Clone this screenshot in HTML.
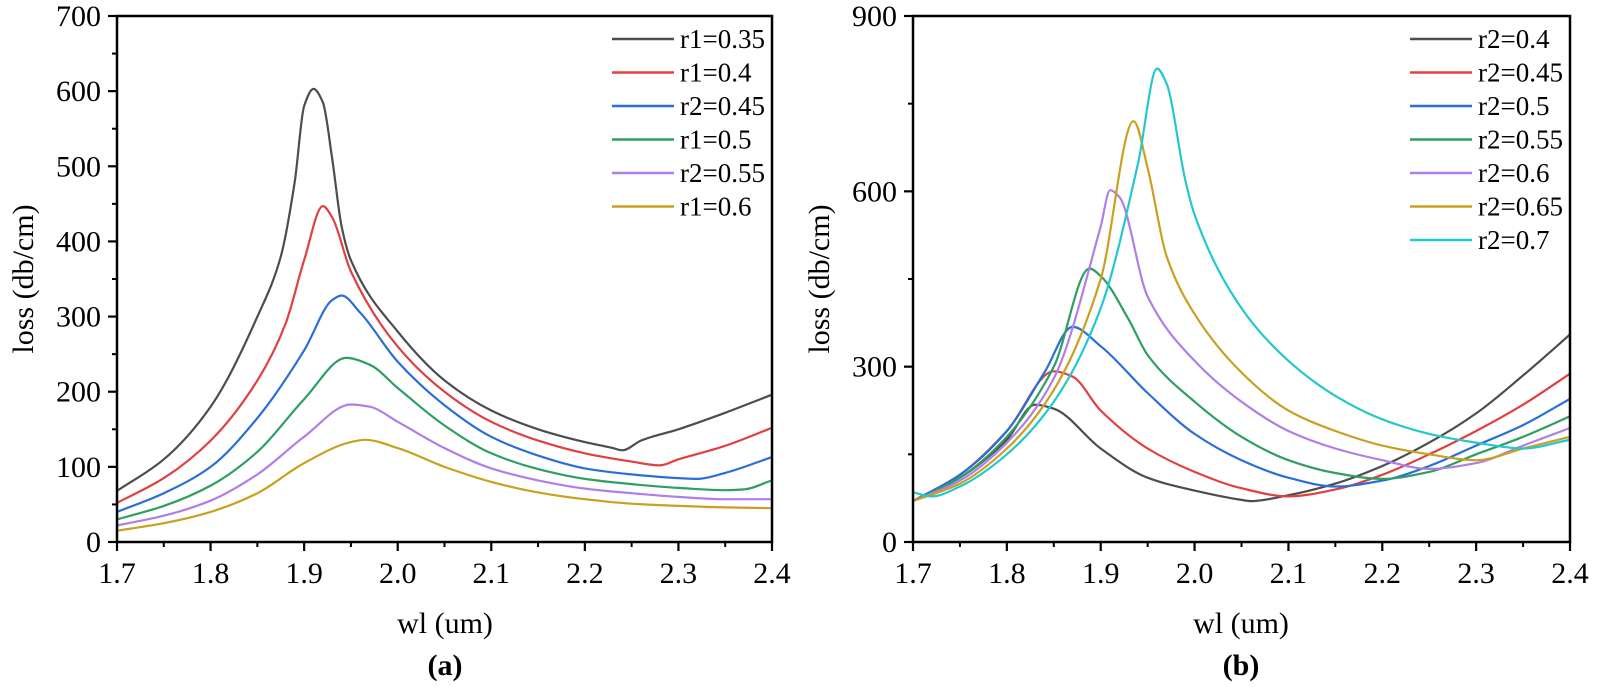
<!DOCTYPE html>
<html><head><meta charset="utf-8">
<style>
html,body{margin:0;padding:0;background:#fff;}
svg{display:block;font-family:"Liberation Serif","Times New Roman",serif;}
</style></head>
<body>
<svg id="chart" width="1597" height="687" viewBox="0 0 1597 687" xmlns="http://www.w3.org/2000/svg"></svg>
<script>
// ---- Panel (a) data ----
const aLabels = ["r1=0.35","r1=0.4","r2=0.45","r1=0.5","r2=0.55","r1=0.6"];
const aColors = ["#4d4d4d","#e0403f","#2a6fd6","#2e9e63","#b07ee8","#c9a020"];
const aX0 = [1.70,1.75,1.80,1.85,1.875,1.89,1.90,1.91,1.92,1.93,1.94,1.95,2.00,2.05,2.10,2.15,2.20,2.23,2.24,2.26,2.30,2.35,2.40];
const aY0 = [68,110,180,300,380,480,580,603,585,510,420,375,280,215,175,150,133,125,122,135,150,172,196];
const aX1 = [1.70,1.75,1.80,1.85,1.88,1.90,1.92,1.93,1.95,2.00,2.05,2.10,2.15,2.20,2.25,2.28,2.30,2.35,2.40];
const aY1 = [52,85,135,215,290,375,447,432,360,260,200,160,135,118,107,102,110,128,152];
const aX2 = [1.70,1.75,1.80,1.85,1.90,1.93,1.94,1.96,2.00,2.05,2.10,2.15,2.20,2.25,2.30,2.32,2.35,2.40];
const aY2 = [40,65,100,165,255,322,328,305,240,182,140,115,98,90,85,84,92,113];
const aX3 = [1.70,1.75,1.80,1.85,1.90,1.945,1.97,2.00,2.05,2.10,2.15,2.20,2.25,2.30,2.35,2.37,2.40];
const aY3 = [30,48,75,120,190,245,236,205,155,118,97,84,77,72,69,70,82];
const aX4 = [1.70,1.75,1.80,1.85,1.90,1.95,1.97,2.00,2.05,2.10,2.15,2.20,2.25,2.30,2.35,2.40];
const aY4 = [22,35,55,90,140,183,180,160,125,98,82,71,65,60,57,57];
const aX5 = [1.70,1.75,1.80,1.85,1.90,1.95,1.965,2.00,2.05,2.10,2.15,2.20,2.25,2.30,2.35,2.40];
const aY5 = [15,25,40,65,105,133,136,125,100,80,66,57,51,48,46,45];
// ---- Panel (b) data ----
const bLabels = ["r2=0.4","r2=0.45","r2=0.5","r2=0.55","r2=0.6","r2=0.65","r2=0.7"];
const bColors = ["#4d4d4d","#e0403f","#2a6fd6","#2e9e63","#b07ee8","#c9a020","#22c8cc"];
const bX0 = [1.70,1.75,1.80,1.83,1.85,1.90,1.95,2.00,2.05,2.06,2.10,2.15,2.20,2.25,2.30,2.35,2.40];
const bY0 = [70,110,175,235,228,160,110,88,72,70,80,100,130,170,220,285,355];
const bX1 = [1.70,1.75,1.80,1.85,1.87,1.90,1.95,2.00,2.05,2.10,2.15,2.20,2.25,2.30,2.35,2.40];
const bY1 = [70,115,190,292,283,225,160,120,92,78,90,115,150,190,235,288];
const bX2 = [1.70,1.75,1.80,1.84,1.87,1.90,1.95,2.00,2.05,2.10,2.15,2.20,2.25,2.30,2.35,2.40];
const bY2 = [70,115,190,290,368,335,255,185,140,110,95,105,130,165,200,245];
const bX3 = [1.70,1.75,1.80,1.85,1.888,1.90,1.93,1.95,2.00,2.05,2.10,2.15,2.20,2.25,2.30,2.35,2.40];
const bY3 = [70,110,180,300,468,455,380,320,240,180,140,118,108,120,150,180,215];
const bX4 = [1.70,1.75,1.80,1.85,1.90,1.91,1.92,1.95,2.00,2.05,2.10,2.15,2.20,2.25,2.30,2.35,2.40];
const bY4 = [70,105,170,280,540,602,590,420,310,240,190,160,140,125,135,165,195];
const bX5 = [1.70,1.75,1.80,1.85,1.90,1.935,1.95,1.97,2.00,2.05,2.10,2.15,2.20,2.25,2.30,2.35,2.40];
const bY5 = [70,100,160,260,450,720,640,490,390,290,225,190,165,150,140,160,180];
const bX6 = [1.70,1.72,1.75,1.80,1.85,1.90,1.94,1.96,1.97,1.99,2.00,2.05,2.10,2.15,2.20,2.25,2.30,2.35,2.40];
const bY6 = [85,78,95,150,240,400,650,810,785,620,560,400,310,250,210,185,170,160,175];
const xTicks = ["1.7","1.8","1.9","2.0","2.1","2.2","2.3","2.4"];
const aYTicks = ["0","100","200","300","400","500","600","700"];
const bYTicks = ["0","300","600","900"];

const NS = "http://www.w3.org/2000/svg";
const svg = document.getElementById("chart");
function mk(tag, attrs, parent){
  const e = document.createElementNS(NS, tag);
  for (const k in attrs) e.setAttribute(k, attrs[k]);
  (parent||svg).appendChild(e);
  return e;
}
function smooth(pts){
  const n = pts.length;
  const dx=[], dy=[], m=[];
  for (let i=0;i<n-1;i++){ dx.push(pts[i+1][0]-pts[i][0]); dy.push(pts[i+1][1]-pts[i][1]); m.push(dy[i]/dx[i]); }
  const t = new Array(n);
  t[0]=m[0]; t[n-1]=m[n-2];
  for (let i=1;i<n-1;i++){
    if (m[i-1]*m[i] <= 0) t[i]=0;
    else { const w1=2*dx[i]+dx[i-1], w2=dx[i]+2*dx[i-1]; t[i]=(w1+w2)/(w1/m[i-1]+w2/m[i]); }
  }
  let d = "M" + pts[0][0].toFixed(1) + "," + pts[0][1].toFixed(1);
  for (let i=0;i<n-1;i++){
    const h = dx[i]/3;
    d += " C"+(pts[i][0]+h).toFixed(1)+","+(pts[i][1]+t[i]*h).toFixed(1)+" "+(pts[i+1][0]-h).toFixed(1)+","+(pts[i+1][1]-t[i+1]*h).toFixed(1)+" "+pts[i+1][0].toFixed(1)+","+pts[i+1][1].toFixed(1);
  }
  return d;
}

function panel(cfg){
  const {L,R,T,B,ymax,yTicks,yMinorStep,xs,ys,labels,colors,legX,tag,titleX,ytitleX} = cfg;
  const sx = v => L + (v-1.7)/0.7*(R-L);
  const sy = v => B - v/ymax*(B-T);
  const g = mk("g", {});
  
  
  const cp = mk("clipPath", {id:"clip-"+tag}, g);
  mk("rect", {x:L, y:T, width:R-L, height:B-T}, cp);
  for (let s=0;s<xs.length;s++){
    const pts = xs[s].map((x,i)=>[sx(x), sy(ys[s][i])]);
    const p = mk("path", {d:smooth(pts), fill:"none", stroke:colors[s], "stroke-width":2.2, "stroke-linejoin":"round", "clip-path":"url(#clip-"+tag+")"}, g);
    
    
  }
  const fr = mk("rect", {x:L, y:T, width:R-L, height:B-T, fill:"none", stroke:"#000", "stroke-width":2.5}, g);
  
  
  for (let i=0;i<xTicks.length;i++){
    const v = parseFloat(xTicks[i]);
    mk("line", {x1:sx(v), x2:sx(v), y1:B, y2:B+9, stroke:"#000", "stroke-width":2.2}, g);
    if (i<xTicks.length-1) mk("line", {x1:sx(v+0.05), x2:sx(v+0.05), y1:B, y2:B+5, stroke:"#000", "stroke-width":2}, g);
    const t = mk("text", {x:sx(v), y:B+41, "font-size":30, "text-anchor":"middle"}, g);
    t.textContent = xTicks[i];
    
    
  }
  for (let i=0;i<yTicks.length;i++){
    const v = parseFloat(yTicks[i]);
    mk("line", {x1:L-9, x2:L, y1:sy(v), y2:sy(v), stroke:"#000", "stroke-width":2.2}, g);
    if (i<yTicks.length-1) mk("line", {x1:L-5, x2:L, y1:sy(v+yMinorStep), y2:sy(v+yMinorStep), stroke:"#000", "stroke-width":2}, g);
    const t = mk("text", {x:L-16, y:sy(v)+10, "font-size":30, "text-anchor":"end"}, g);
    t.textContent = yTicks[i];
    
    
  }
  const xt = mk("text", {x:titleX, y:633, "font-size":30, "text-anchor":"middle"}, g);
  xt.textContent = "wl (um)";
  
  
  const yt = mk("text", {x:0, y:0, "font-size":30, "text-anchor":"middle", transform:"translate("+ytitleX+","+((T+B)/2)+") rotate(-90)"}, g);
  yt.textContent = "loss (db/cm)";
  
  
  const pt = mk("text", {x:titleX, y:675, "font-size":30, "font-weight":"bold", "text-anchor":"middle"}, g);
  pt.textContent = "("+tag+")";
  
  
  for (let s=0;s<labels.length;s++){
    const y = 39 + s*33.5;
    const lg = mk("g", {}, g);
    
    
    mk("line", {x1:legX, x2:legX+62, y1:y, y2:y, stroke:colors[s], "stroke-width":2.4}, lg);
    const t = mk("text", {x:legX+68, y:y+9, "font-size":27}, lg);
    t.textContent = labels[s];
  }
}

panel({L:117,R:772,T:16,B:542,ymax:700,yTicks:aYTicks,yMinorStep:50,
  xs:[aX0,aX1,aX2,aX3,aX4,aX5], ys:[aY0,aY1,aY2,aY3,aY4,aY5],
  labels:aLabels, colors:aColors, legX:612, tag:"a", titleX:445, ytitleX:33});
panel({L:913,R:1570,T:16,B:542,ymax:900,yTicks:bYTicks,yMinorStep:150,
  xs:[bX0,bX1,bX2,bX3,bX4,bX5,bX6], ys:[bY0,bY1,bY2,bY3,bY4,bY5,bY6],
  labels:bLabels, colors:bColors, legX:1410, tag:"b", titleX:1241, ytitleX:829});
</script>
</body></html>
